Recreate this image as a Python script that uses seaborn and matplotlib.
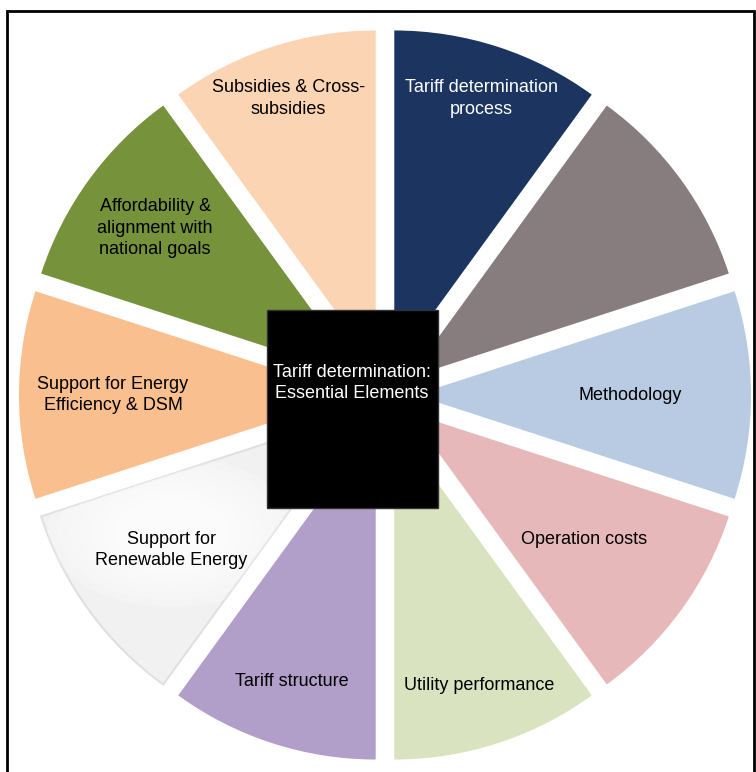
import matplotlib
matplotlib.use('Agg')
import matplotlib.pyplot as plt
import numpy as np
import seaborn as sns
from matplotlib.patches import Rectangle, Ellipse

# Data
labels = ['Tariff determination\nprocess', '', 'Methodology', 'Operation costs',
          'Utility performance', 'Tariff structure', 'Support for\nRenewable Energy',
          'Support for Energy\nEfficiency & DSM', 'Affordability &\nalignment with\nnational goals',
          'Subsidies & Cross-\nsubsidies']
values = [1, 1, 1, 1, 1, 1, 1, 1, 1, 1]
colors = ['#1b3560', '#877d7f', '#b8cbe3', '#e6b8b9', '#d9e3bf',
          '#b29fc9', '#f1f1f1', '#f9bf8e', '#76923b', '#fbd4b3']
text_colors = ['white', 'black', 'black', 'black', 'black',
               'black', 'black', 'black', 'black', 'black']
center_title = 'Tariff determination:\nEssential Elements'

# radial distance of each label from the pie centre (pixels)
label_r = [312, 0, 245, 246, 305, 301, 264, 272, 284, 312]

sns.set_theme(style='white')
plt.rcParams['font.family'] = ['Liberation Sans', 'DejaVu Sans']

W, H = 756, 772
fig = plt.figure(figsize=(W / 100, H / 100), dpi=100)
ax = fig.add_axes([0, 0, 1, 1])

cx, cy = 385, H - 395
r = 336
# explode is an absolute offset in data units (pixels here)
wedges, _ = ax.pie(values, colors=colors, startangle=90, counterclock=False,
                   radius=r, center=(cx, cy), explode=[30] * len(values),
                   wedgeprops=dict(linewidth=0))
ax.set_xlim(0, W)
ax.set_ylim(0, H)
ax.set_aspect('auto')
ax.axis('off')

# soft white glow inside the pale slice, clipped to it
wedges[6].set_edgecolor('#e0e0e0')
wedges[6].set_linewidth(1.5)
for k in range(8):
    s = 1 - k * 0.09
    glow = Ellipse((172, H - 532), 250 * s, 150 * s, facecolor='white',
                   edgecolor='none', alpha=0.22, zorder=2)
    ax.add_patch(glow)
    glow.set_clip_path(wedges[6])

for w, lab, tc, dist in zip(wedges, labels, text_colors, label_r):
    if not lab:
        continue
    ang = np.deg2rad((w.theta1 + w.theta2) / 2)
    ax.text(cx + dist * np.cos(ang), cy + dist * np.sin(ang), lab, color=tc,
            ha='center', va='center', fontsize=13, linespacing=1.35, zorder=5)

# centre box
ax.add_patch(Rectangle((267, H - 508), 171, 198, facecolor='black', edgecolor='#333333', lw=1, zorder=6))
ax.text(352, H - 383, center_title, color='white', ha='center', va='center',
        fontsize=13, linespacing=1.35, zorder=7)

# outer frame (bottom edge cut off)
ax.add_patch(Rectangle((7, -20), 747, H - 11 + 20, facecolor='none', edgecolor='black', lw=2, zorder=8))

fig.savefig('out.png', dpi=100)
